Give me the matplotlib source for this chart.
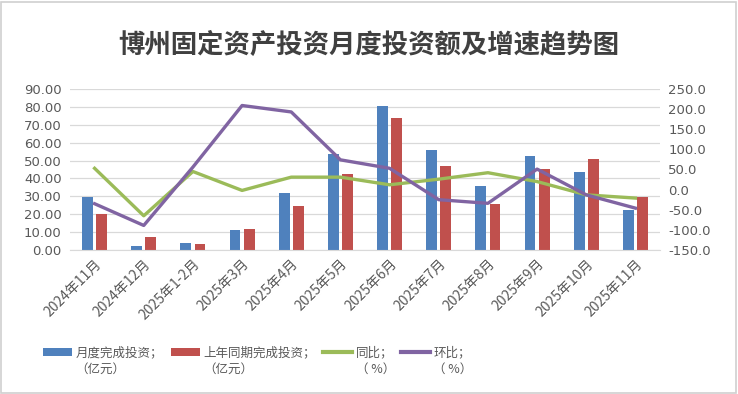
import matplotlib
matplotlib.use("Agg")
import matplotlib.pyplot as plt
import numpy as np
from matplotlib.patches import Rectangle

plt.rcParams['font.family'] = ['Noto Sans CJK SC', 'DejaVu Sans']

categories = ["2024年11月", "2024年12月", "2025年1-2月", "2025年3月", "2025年4月", "2025年5月",
              "2025年6月", "2025年7月", "2025年8月", "2025年9月", "2025年10月", "2025年11月"]
monthly = [29.8, 2.4, 3.7, 11.0, 31.7, 53.7, 80.6, 55.8, 35.6, 52.4, 43.7, 22.4]
last_year = [20.0, 7.1, 3.2, 11.8, 24.4, 42.5, 73.7, 47.0, 25.6, 45.2, 51.1, 29.8]
yoy = [53, -65, 45, -2, 31, 31, 12, 26, 42, 20, -13, -21]
mom = [-35, -89, 56, 209, 193, 74, 53, -25, -34, 51, -13, -46]

title = "博州固定资产投资月度投资额及增速趋势图"
legend_l1 = ["月度完成投资；", "上年同期完成投资；", "同比；", "环比；"]
legend_l2 = ["（亿元）", "（亿元）", "（ %）", "（ %）"]

BLUE, RED, GREEN, PURPLE = "#4F81BD", "#C0504D", "#9BBB59", "#8064A2"
TXT = "#595959"

fig = plt.figure(figsize=(7.38, 3.94), dpi=100)
fig.patches.append(Rectangle((0.002, 0.003), 0.995, 0.993, transform=fig.transFigure,
                             fill=False, edgecolor="#d0d0d0", linewidth=1.2))

ax = fig.add_axes([70/738, 1-250/394, 590/738, 161/394])
ax2 = ax.twinx()

x = np.arange(len(categories))
w = 0.22
b1 = ax.bar(x - 0.145, monthly, w, color=BLUE, zorder=2)
b2 = ax.bar(x + 0.145, last_year, w, color=RED, zorder=2)
l1, = ax2.plot(x, yoy, color=GREEN, lw=2.4, solid_joinstyle='round')
l2, = ax2.plot(x, mom, color=PURPLE, lw=2.4, solid_joinstyle='round')

ax.set_xlim(-0.5, len(categories) - 0.5)
ax.set_ylim(0, 90)
ax.set_yticks(np.arange(0, 91, 10))
ax.set_yticklabels([f"{v:.2f}" for v in np.arange(0, 91, 10)])
ax2.set_ylim(-150, 250)
ax2.set_yticks(np.arange(-150, 251, 50))
ax2.set_yticklabels([f"{v:.1f}" for v in np.arange(-150, 251, 50)])

ax.grid(axis='y', color="#d9d9d9", lw=0.9, zorder=0)
ax.set_axisbelow(True)
for a in (ax, ax2):
    for s in a.spines.values():
        s.set_visible(False)
    a.tick_params(length=0, labelsize=9.5, labelcolor=TXT, pad=6, labelfontfamily='DejaVu Sans')
ax.spines['bottom'].set_visible(True)
ax.spines['bottom'].set_color("#d9d9d9")
ax.set_xticks(x)
ax.set_xticklabels(categories, rotation=45, ha='right', va='top', rotation_mode='anchor',
                   fontsize=10, color=TXT)
ax.tick_params(axis='x', pad=5, labelfontfamily=['Noto Sans CJK SC'])

fig.text(0.5, 1 - 45/394, title, ha='center', va='center', fontsize=19,
         fontweight='bold', color="#404040")

leg = fig.legend([b1, b2, l1, l2], legend_l1, loc='center', ncol=4,
                 bbox_to_anchor=(257/738, 1 - 353/394), frameon=False, fontsize=9,
                 handlelength=2.3, handleheight=0.6, handletextpad=0.3, columnspacing=0.6,
                 labelcolor=TXT)
for h in leg.legend_handles:
    if hasattr(h, 'set_linewidth') and not isinstance(h, Rectangle):
        h.set_linewidth(3)
fig.canvas.draw()
r = fig.canvas.get_renderer()
for t, s in zip(leg.get_texts(), legend_l2):
    bb = t.get_window_extent(r)
    x0 = bb.x0 / fig.bbox.width
    y0 = (bb.y0 - 3) / fig.bbox.height
    fig.text(x0, y0, s, ha='left', va='top', fontsize=9, color=TXT)

fig.savefig("out.png", dpi=100)
